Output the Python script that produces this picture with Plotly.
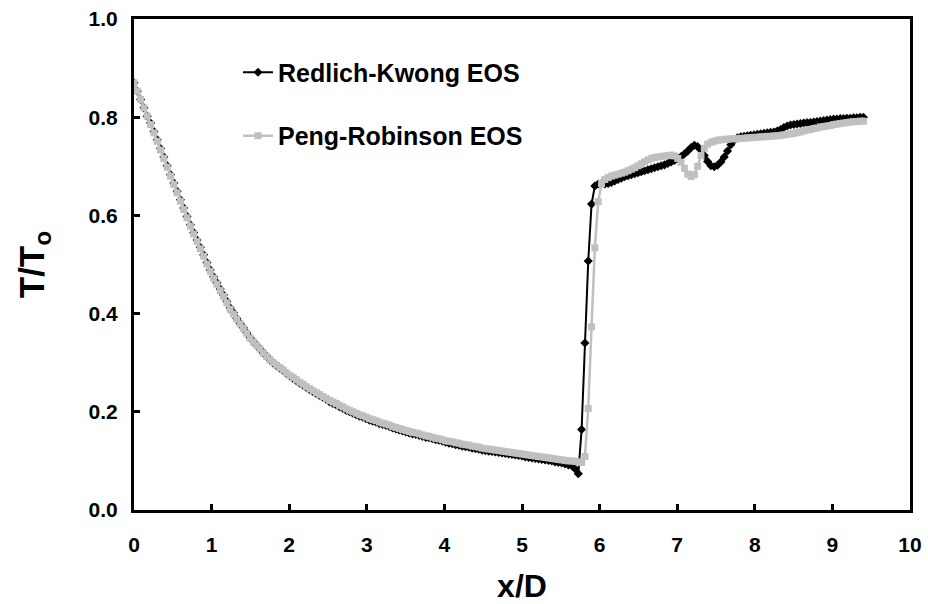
import plotly.graph_objects as go

# Centreline temperature ratio T/To along the jet, sampled at 221 evenly spaced
# stations from x/D = 0 to x/D = 9.4.
n_pts = 221
x_end = 9.4
x_d = [round(i * x_end / (n_pts - 1), 4) for i in range(n_pts)]

t_rk = [
    0.870, 0.853, 0.836, 0.819, 0.802, 0.788, 0.771, 0.754, 0.736, 0.719,
    0.701, 0.683, 0.666, 0.649, 0.632, 0.615, 0.598, 0.581, 0.565, 0.550,
    0.535, 0.520, 0.504, 0.489, 0.475, 0.463, 0.450, 0.438, 0.425, 0.412,
    0.402, 0.390, 0.380, 0.371, 0.361, 0.351, 0.343, 0.335, 0.328, 0.320,
    0.313, 0.306, 0.299, 0.294, 0.289, 0.284, 0.278, 0.273, 0.268, 0.263,
    0.258, 0.254, 0.249, 0.245, 0.241, 0.237, 0.233, 0.229, 0.225, 0.220,
    0.217, 0.214, 0.210, 0.207, 0.203, 0.200, 0.197, 0.194, 0.191, 0.189,
    0.186, 0.183, 0.181, 0.179, 0.176, 0.174, 0.172, 0.170, 0.167, 0.165,
    0.163, 0.161, 0.159, 0.157, 0.155, 0.154, 0.152, 0.150, 0.148, 0.147,
    0.145, 0.143, 0.142, 0.140, 0.138, 0.136, 0.135, 0.133, 0.132, 0.130,
    0.129, 0.128, 0.126, 0.125, 0.124, 0.122, 0.121, 0.120, 0.119, 0.118,
    0.117, 0.116, 0.115, 0.114, 0.113, 0.112, 0.111, 0.110, 0.108, 0.107,
    0.106, 0.105, 0.104, 0.103, 0.102, 0.101, 0.100, 0.098, 0.097, 0.096,
    0.094, 0.092, 0.090, 0.084, 0.074, 0.164, 0.340, 0.507, 0.623, 0.660,
    0.664, 0.665, 0.664, 0.665, 0.667, 0.670, 0.673, 0.676, 0.679, 0.681,
    0.683, 0.685, 0.687, 0.689, 0.691, 0.693, 0.695, 0.697, 0.699, 0.701,
    0.703, 0.706, 0.709, 0.712, 0.716, 0.720, 0.725, 0.731, 0.738, 0.743,
    0.740, 0.733, 0.722, 0.710, 0.701, 0.699, 0.702, 0.709, 0.719, 0.731,
    0.744, 0.753, 0.758, 0.760, 0.761, 0.762, 0.763, 0.764, 0.765, 0.766,
    0.767, 0.768, 0.769, 0.770, 0.772, 0.775, 0.779, 0.782, 0.784, 0.785,
    0.786, 0.787, 0.788, 0.789, 0.789, 0.790, 0.791, 0.792, 0.793, 0.794,
    0.795, 0.796, 0.796, 0.797, 0.797, 0.798, 0.798, 0.799, 0.799, 0.800,
    0.800,
]

t_pr = [
    0.870, 0.853, 0.836, 0.819, 0.802, 0.785, 0.768, 0.751, 0.733, 0.716,
    0.698, 0.680, 0.663, 0.646, 0.629, 0.612, 0.595, 0.578, 0.562, 0.547,
    0.532, 0.517, 0.501, 0.486, 0.472, 0.460, 0.447, 0.435, 0.422, 0.409,
    0.399, 0.389, 0.379, 0.370, 0.360, 0.350, 0.342, 0.335, 0.328, 0.320,
    0.313, 0.306, 0.300, 0.295, 0.290, 0.285, 0.279, 0.274, 0.270, 0.265,
    0.260, 0.256, 0.251, 0.247, 0.243, 0.239, 0.235, 0.231, 0.227, 0.223,
    0.220, 0.217, 0.213, 0.210, 0.206, 0.203, 0.200, 0.197, 0.194, 0.192,
    0.189, 0.186, 0.184, 0.182, 0.179, 0.177, 0.175, 0.173, 0.170, 0.168,
    0.166, 0.164, 0.162, 0.160, 0.158, 0.157, 0.155, 0.153, 0.151, 0.150,
    0.148, 0.146, 0.145, 0.143, 0.141, 0.140, 0.139, 0.137, 0.136, 0.134,
    0.133, 0.132, 0.130, 0.129, 0.128, 0.126, 0.125, 0.124, 0.123, 0.122,
    0.121, 0.120, 0.119, 0.118, 0.117, 0.116, 0.115, 0.114, 0.113, 0.112,
    0.111, 0.110, 0.109, 0.108, 0.107, 0.106, 0.105, 0.104, 0.103, 0.102,
    0.101, 0.100, 0.100, 0.099, 0.098, 0.097, 0.109, 0.207, 0.373, 0.534,
    0.628, 0.665, 0.673, 0.677, 0.680, 0.682, 0.684, 0.686, 0.688, 0.691,
    0.694, 0.697, 0.701, 0.705, 0.709, 0.713, 0.716, 0.718, 0.719, 0.720,
    0.721, 0.722, 0.723, 0.721, 0.716, 0.708, 0.696, 0.684, 0.679, 0.683,
    0.700, 0.722, 0.737, 0.745, 0.749, 0.751, 0.753, 0.754, 0.755, 0.755,
    0.756, 0.756, 0.756, 0.757, 0.757, 0.758, 0.758, 0.759, 0.759, 0.760,
    0.760, 0.761, 0.761, 0.762, 0.762, 0.763, 0.764, 0.765, 0.766, 0.767,
    0.769, 0.770, 0.772, 0.774, 0.775, 0.777, 0.778, 0.780, 0.781, 0.782,
    0.783, 0.785, 0.786, 0.787, 0.788, 0.789, 0.790, 0.791, 0.791, 0.792,
    0.792,
]

series_names = ["Redlich-Kwong EOS", "Peng-Robinson EOS"]
x_ticks = list(range(0, 11))
y_ticks = [0.0, 0.2, 0.4, 0.6, 0.8, 1.0]

FONT = "Arial, 'Liberation Sans', sans-serif"

fig = go.Figure()
fig.add_trace(go.Scatter(
    x=x_d, y=t_rk, name=series_names[0], mode="lines+markers",
    legendgroup="rk",
    line=dict(color="black", width=2),
    marker=dict(symbol="diamond", size=7, color="black"),
))
fig.add_trace(go.Scatter(
    x=x_d, y=t_pr, name=series_names[1], mode="lines+markers",
    legendgroup="pr",
    line=dict(color="#c0c0c0", width=2.5),
    marker=dict(symbol="square", size=7, color="#c0c0c0"),
))

axis_common = dict(
    showline=True, linecolor="black", linewidth=3, mirror=True,
    showgrid=False, zeroline=False, automargin=False,
    ticks="inside", ticklen=6, tickwidth=2.5, tickcolor="black",
    tickfont=dict(family=FONT, size=21, color="black", weight="bold"),
)

fig.update_xaxes(
    range=[0, 10], tickvals=x_ticks, ticklabelstandoff=14,
    title=dict(text="x/D", font=dict(family=FONT, size=32, color="black", weight="bold"),
               standoff=20),
    **axis_common,
)
fig.update_yaxes(
    range=[0, 1], tickvals=y_ticks, tickformat=".1f", ticklabelstandoff=9,
    title=dict(text="T/T<sub>o</sub>", font=dict(family=FONT, size=35, color="black", weight="bold"),
               standoff=34),
    **axis_common,
)

fig.update_layout(
    width=928, height=604,
    margin=dict(l=134, r=18, t=19, b=94),
    paper_bgcolor="white", plot_bgcolor="white",
    showlegend=True,
    legend=dict(
        x=0.134, y=0.938, xanchor="left", yanchor="top",
        font=dict(family=FONT, size=25, color="black", weight="bold"),
        bgcolor="rgba(0,0,0,0)", tracegroupgap=28, traceorder="grouped",
    ),
)

fig.write_html("out.html")
